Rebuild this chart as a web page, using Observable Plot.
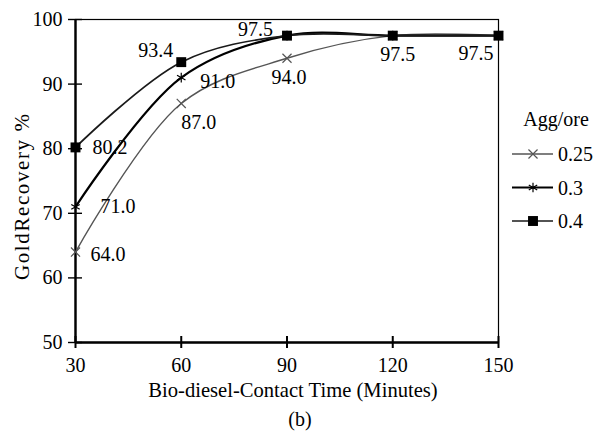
<!DOCTYPE html>
<html><head>
<meta charset="utf-8">
<script src="https://cdn.jsdelivr.net/npm/d3@7"></script>
<script src="https://cdn.jsdelivr.net/npm/@observablehq/plot@0.6"></script>
<style>
body{margin:0;background:#fff;}
#chart svg{display:block;}
</style>
</head><body><div id="chart"></div>
<script>
// ---- data ----
const times = [30, 60, 90, 120, 150];
const seriesNames = ["0.25", "0.3", "0.4"];
const recovery025 = [64.0, 87.0, 94.0, 97.5, 97.5];
const recovery03 = [71.0, 91.0, 97.5, 97.5, 97.5];
const recovery04 = [80.2, 93.4, 97.5, 97.5, 97.5];
const xTicks = [30, 60, 90, 120, 150];
const yTicks = [50, 60, 70, 80, 90, 100];
const legendTitle = "Agg/ore";
const xLabel = "Bio-diesel-Contact Time (Minutes)";
const yLabel = "GoldRecovery %";
const caption = "(b)";
// which points carry a value label: [series, time index]
const labeledPoints = [["0.4",0],["0.4",1],["0.4",2],["0.3",0],["0.3",1],["0.25",0],["0.25",1],["0.25",2],["0.25",3],["0.25",4]];

// ---- styles ----
const style = {
  "0.25": {stroke: "#555", width: 1.4, symbol: "times", r: 4.2, fill: "none"},
  "0.3":  {stroke: "#000", width: 2.2, symbol: "asterisk", r: 4.6, fill: "none"},
  "0.4":  {stroke: "#1a1a1a", width: 1.7, symbol: "square", r: 5.6, fill: "#000"}
};
const labelPlacement = {
  "0.4-0": {dx: 17, dy: 0, anchor: "start"},
  "0.4-1": {dx: -8, dy: -12, anchor: "end"},
  "0.4-2": {dx: -14, dy: -6, anchor: "end"},
  "0.3-0": {dx: 25, dy: 0, anchor: "start"},
  "0.3-1": {dx: 19, dy: 4, anchor: "start"},
  "0.25-0": {dx: 15, dy: 3, anchor: "start"},
  "0.25-1": {dx: 0, dy: 19, anchor: "start"},
  "0.25-2": {dx: 2, dy: 19, anchor: "middle"},
  "0.25-3": {dx: 5, dy: 19, anchor: "middle"},
  "0.25-4": {dx: -5, dy: 18, anchor: "end"}
};

const valuesBySeries = {"0.25": recovery025, "0.3": recovery03, "0.4": recovery04};
const rows = seriesNames.flatMap(s => times.map((t, i) => ({series: s, time: t, value: valuesBySeries[s][i], idx: i})));
const labelRows = labeledPoints.map(([s, i]) => ({series: s, time: times[i], value: valuesBySeries[s][i], key: `${s}-${i}`}));

const font = "Liberation Serif, Times New Roman, serif";
const fs = 20;

const marks = [
  Plot.frame({stroke: "#000", strokeWidth: 1.2}),
  Plot.ruleX([30], {stroke: "#000", strokeWidth: 2.4}),
  Plot.ruleY([50], {stroke: "#000", strokeWidth: 2.4}),
  Plot.axisY(yTicks, {tickSize: 7, tickPadding: 6, strokeWidth: 1.4, label: null, fontSize: fs}),
  Plot.axisY(yTicks, {tickSize: -7, tickFormat: () => "", strokeWidth: 1.4, label: null}),
  Plot.axisX(xTicks, {tickSize: 6, tickPadding: 9, strokeWidth: 2, label: null, fontSize: fs}),
  Plot.axisX(xTicks, {tickSize: -6, tickFormat: () => "", strokeWidth: 2, label: null})
];
for (const s of seriesNames) {
  const st = style[s];
  const data = rows.filter(d => d.series === s);
  marks.push(Plot.line(data, {x: "time", y: "value", stroke: st.stroke, strokeWidth: st.width, curve: "catmull-rom"}));
}
for (const s of seriesNames) {
  const st = style[s];
  const data = rows.filter(d => d.series === s);
  marks.push(Plot.dot(data, {x: "time", y: "value", symbol: st.symbol, r: st.r, stroke: st.fill === "none" ? st.stroke : null, fill: st.fill === "none" ? null : st.fill, strokeWidth: 1.2}));
}
for (const lr of labelRows) {
  const p = labelPlacement[lr.key];
  marks.push(Plot.text([lr], {x: "time", y: "value", text: d => d.value.toFixed(1), dx: p.dx, dy: p.dy, textAnchor: p.anchor, lineAnchor: "middle", fontSize: fs, fill: "#000"}));
}
marks.push(Plot.text([xLabel], {frameAnchor: "bottom", dx: 6, dy: 48, lineAnchor: "middle", fontSize: 20.6, fill: "#000"}));
marks.push(Plot.text([caption], {frameAnchor: "bottom", dx: 13, dy: 77, lineAnchor: "middle", fontSize: fs, fill: "#000"}));

const chart = Plot.plot({
  width: 595,
  height: 435,
  marginLeft: 75,
  marginRight: 97,
  marginTop: 19,
  marginBottom: 93,
  x: {domain: [30, 150], axis: null},
  y: {domain: [50, 100], axis: null},
  style: {fontFamily: font, fontSize: fs + "px", color: "#000", background: "#fff", overflow: "visible"},
  marks
});

const svg = d3.select(chart);
// ---- y axis title ----
svg.append("text")
  .attr("transform", "translate(22,197) rotate(-90)")
  .attr("text-anchor", "middle").attr("dominant-baseline", "central")
  .attr("font-family", font).attr("font-size", 21)
  .attr("textLength", 166).attr("lengthAdjust", "spacing")
  .text(yLabel);

// ---- legend (drawn into the same SVG) ----
const lg = svg.append("g").attr("font-family", font).attr("font-size", fs).attr("text-anchor", "start");
lg.append("text").attr("x", 556).attr("y", 119).attr("text-anchor", "middle").attr("dominant-baseline", "central").text(legendTitle);
const symbolMap = {times: d3.symbolTimes, asterisk: d3.symbolAsterisk, square: d3.symbolSquare};
seriesNames.forEach((s, i) => {
  const st = style[s];
  const y = 154 + i * 33.5;
  lg.append("line").attr("x1", 512).attr("x2", 553).attr("y1", y).attr("y2", y).attr("stroke", st.stroke).attr("stroke-width", st.width);
  lg.append("path").attr("transform", `translate(533,${y})`)
    .attr("d", d3.symbol(symbolMap[st.symbol], st.r * st.r * Math.PI)())
    .attr("fill", st.fill).attr("stroke", st.fill === "none" ? st.stroke : "none").attr("stroke-width", 1.2);
  lg.append("text").attr("x", 558).attr("y", y).attr("text-anchor", "start").attr("dominant-baseline", "central").text(s);
});

document.getElementById("chart").append(chart);
</script>
</body></html>
